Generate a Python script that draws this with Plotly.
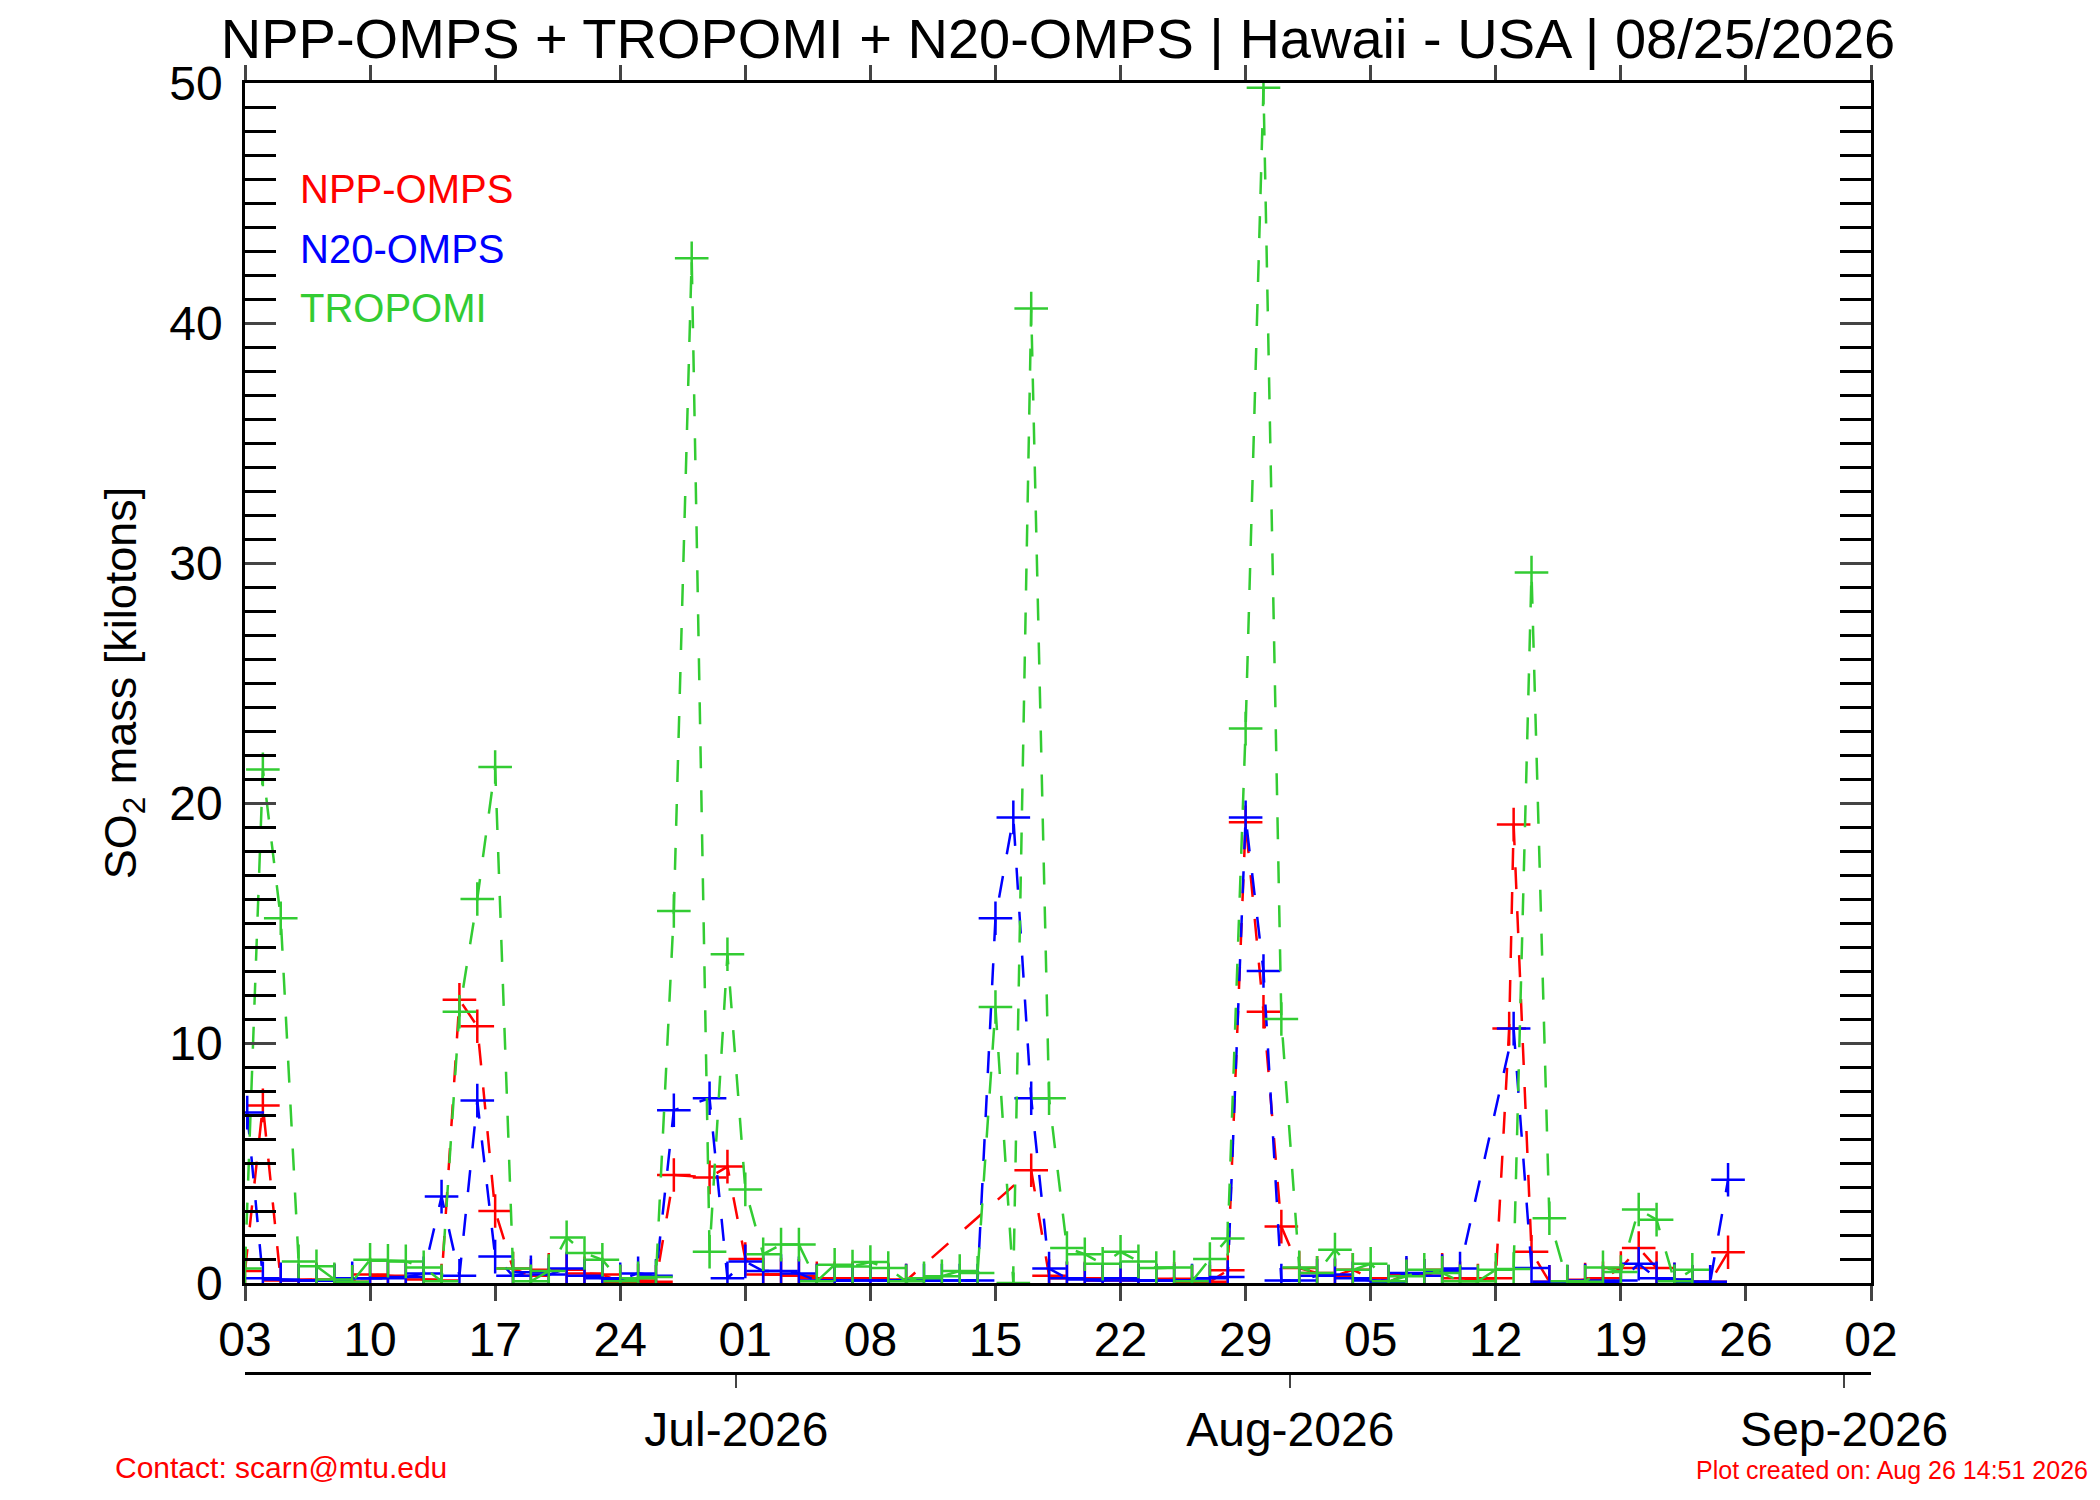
import plotly.graph_objects as go

# NPP-OMPS (rojo)
npp_dates = ['2026-06-03', '2026-06-04', '2026-06-05', '2026-06-06', '2026-06-07', '2026-06-08',
             '2026-06-09', '2026-06-10', '2026-06-11', '2026-06-12', '2026-06-13', '2026-06-14',
             '2026-06-15', '2026-06-16', '2026-06-17', '2026-06-18', '2026-06-19', '2026-06-20',
             '2026-06-21', '2026-06-22', '2026-06-23', '2026-06-24', '2026-06-25', '2026-06-26',
             '2026-06-27', '2026-06-29', '2026-06-30', '2026-07-01', '2026-07-02', '2026-07-03',
             '2026-07-04', '2026-07-05', '2026-07-06', '2026-07-07', '2026-07-08', '2026-07-09',
             '2026-07-10', '2026-07-17', '2026-07-18', '2026-07-19', '2026-07-20', '2026-07-21',
             '2026-07-22', '2026-07-23', '2026-07-24', '2026-07-25', '2026-07-26', '2026-07-27',
             '2026-07-28', '2026-07-29', '2026-07-30', '2026-07-31', '2026-08-01', '2026-08-02',
             '2026-08-03', '2026-08-04', '2026-08-05', '2026-08-06', '2026-08-07', '2026-08-08',
             '2026-08-09', '2026-08-10', '2026-08-11', '2026-08-12', '2026-08-12 18:00', '2026-08-13',
             '2026-08-14', '2026-08-15', '2026-08-16', '2026-08-17', '2026-08-18', '2026-08-19',
             '2026-08-20', '2026-08-21', '2026-08-22', '2026-08-23', '2026-08-24', '2026-08-25']
npp_values = [0.5, 7.4, 0.1, 0.1, 0.15, 0.1,
              0.05, 0.35, 0.3, 0.25, 0.15, 0.1,
              11.8, 10.7, 3.0, 0.6, 0.3, 0.55,
              0.55, 0.4, 0.35, 0.05, 0.1, 0.05,
              4.5, 4.4, 4.85, 1.0, 0.35, 0.35,
              0.3, 0.2, 0.2, 0.2, 0.2, 0.15,
              0.1, 4.7, 0.3, 0.2, 0.2, 0.1,
              0.15, 0.1, 0.1, 0.18, 0.05, 0.05,
              0.53, 19.2, 11.3, 2.35, 0.62, 0.42,
              0.3, 0.55, 0.2, 0.05, 0.35, 0.3,
              0.55, 0.2, 0.1, 0.2, 10.6, 19.1,
              1.3, 0.05, 0.05, 0.14, 0.2, 0.62,
              1.46, 0.62, 0.14, 0.05, 0.05, 1.28]

# N20-OMPS (azul)
n20_dates = ['2026-06-03 03:00', '2026-06-04', '2026-06-05', '2026-06-06', '2026-06-07', '2026-06-08',
             '2026-06-09', '2026-06-10', '2026-06-11', '2026-06-12', '2026-06-13', '2026-06-14',
             '2026-06-15', '2026-06-16', '2026-06-17', '2026-06-18', '2026-06-19', '2026-06-20',
             '2026-06-21', '2026-06-22', '2026-06-23', '2026-06-24', '2026-06-25', '2026-06-26',
             '2026-06-27', '2026-06-29', '2026-06-30', '2026-07-01', '2026-07-02', '2026-07-03',
             '2026-07-04', '2026-07-05', '2026-07-06', '2026-07-07', '2026-07-08', '2026-07-09',
             '2026-07-10', '2026-07-11', '2026-07-12', '2026-07-13', '2026-07-14', '2026-07-15',
             '2026-07-16', '2026-07-17', '2026-07-18', '2026-07-19', '2026-07-20', '2026-07-21',
             '2026-07-22', '2026-07-23', '2026-07-24', '2026-07-25', '2026-07-26', '2026-07-27',
             '2026-07-28', '2026-07-29', '2026-07-30', '2026-07-31', '2026-08-01', '2026-08-02',
             '2026-08-03', '2026-08-04', '2026-08-05', '2026-08-06', '2026-08-07', '2026-08-08',
             '2026-08-09', '2026-08-10', '2026-08-13', '2026-08-14', '2026-08-15', '2026-08-16',
             '2026-08-17', '2026-08-18', '2026-08-19', '2026-08-20', '2026-08-21', '2026-08-22',
             '2026-08-23', '2026-08-24', '2026-08-25']
n20_values = [7.1, 0.2, 0.15, 0.1, 0.1, 0.1,
              0.2, 0.2, 0.2, 0.25, 0.4, 3.6,
              0.3, 7.6, 1.1, 0.3, 0.45, 0.35,
              0.6, 0.3, 0.2, 0.15, 0.4, 0.3,
              7.2, 7.7, 0.2, 0.9, 0.5, 0.5,
              0.4, 0.1, 0.1, 0.1, 0.1, 0.1,
              0.1, 0.1, 0.1, 0.1, 0.1, 15.2,
              19.4, 7.7, 0.6, 0.2, 0.15, 0.1,
              0.2, 0.1, 0.1, 0.1, 0.1, 0.2,
              0.25, 19.4, 13.0, 0.1, 0.1, 0.3,
              0.35, 0.2, 0.1, 0.05, 0.42, 0.3,
              0.5, 0.6, 10.6, 0.62, 0.05, 0.05,
              0.1, 0.05, 0.1, 0.8, 0.2, 0.15,
              0.05, 0.05, 4.3]

# TROPOMI (verde)
tropomi_dates = ['2026-06-03', '2026-06-04', '2026-06-05', '2026-06-06', '2026-06-07', '2026-06-08',
                 '2026-06-09', '2026-06-10', '2026-06-11', '2026-06-12', '2026-06-13', '2026-06-14',
                 '2026-06-15', '2026-06-16', '2026-06-17', '2026-06-18', '2026-06-19', '2026-06-20',
                 '2026-06-21', '2026-06-22', '2026-06-23', '2026-06-24', '2026-06-25', '2026-06-26',
                 '2026-06-27', '2026-06-28', '2026-06-29', '2026-06-30', '2026-07-01', '2026-07-02',
                 '2026-07-03', '2026-07-04', '2026-07-05', '2026-07-06', '2026-07-07', '2026-07-08',
                 '2026-07-09', '2026-07-10', '2026-07-11', '2026-07-12', '2026-07-13', '2026-07-14',
                 '2026-07-15', '2026-07-16', '2026-07-17', '2026-07-18', '2026-07-19', '2026-07-20',
                 '2026-07-21', '2026-07-22', '2026-07-23', '2026-07-24', '2026-07-25', '2026-07-26',
                 '2026-07-27', '2026-07-28', '2026-07-29', '2026-07-30', '2026-07-31', '2026-08-01',
                 '2026-08-02', '2026-08-03', '2026-08-04', '2026-08-05', '2026-08-06', '2026-08-07',
                 '2026-08-08', '2026-08-09', '2026-08-10', '2026-08-11', '2026-08-12', '2026-08-13',
                 '2026-08-14', '2026-08-15', '2026-08-16', '2026-08-17', '2026-08-18', '2026-08-19',
                 '2026-08-20', '2026-08-21', '2026-08-22', '2026-08-23']
tropomi_values = [0.6, 21.4, 15.2, 0.9, 0.7, 0.15,
                  0.05, 0.97, 0.93, 0.9, 0.65, 0.07,
                  11.3, 16.0, 21.5, 0.6, 0.07, 0.5,
                  1.9, 1.25, 0.97, 0.07, 0.2, 0.25,
                  15.5, 42.7, 1.3, 13.7, 3.9, 1.2,
                  1.6, 1.6, 0.07, 0.76, 0.69, 0.87,
                  0.62, 0.07, 0.2, 0.28, 0.5, 0.42,
                  11.5, 0.0, 40.6, 7.7, 1.46, 1.2,
                  0.8, 1.3, 0.9, 0.62, 0.65, 0.07,
                  1.0, 1.85, 23.1, 49.8, 11.0, 0.65,
                  0.42, 1.39, 0.55, 0.8, 0.07, 0.28,
                  0.55, 0.42, 0.07, 0.07, 0.55, 0.58,
                  29.6, 2.7, 0.07, 0.05, 0.65, 0.46,
                  3.06, 2.64, 0.07, 0.55]

# Ejes
x_range = ['2026-06-03', '2026-09-02']
month_range = ['2026-06-03 12:00', '2026-09-02 12:00']
month_ticks = ['2026-07-01', '2026-08-01', '2026-09-01']
month_labels = ['Jul-2026', 'Aug-2026', 'Sep-2026']

FONT = 'Liberation Sans, Arial, sans-serif'
DAY_MS = 86400000

# Geometría del área de dibujo (px)
W, H = 2100, 1500
L, R, T, B = 237, 237, 75, 135
PW, PH = W - L - R, H - T - B


def px_x(px):
    return (px - L) / PW


def px_y(py):
    return (H - B - py) / PH


series = [
    ('NPP-OMPS', npp_dates, npp_values, '#FF0000'),
    ('N20-OMPS', n20_dates, n20_values, '#0000FF'),
    ('TROPOMI', tropomi_dates, tropomi_values, '#33CC33'),
]

fig = go.Figure()

for name, x, y, color in series:
    fig.add_trace(go.Scatter(
        x=x, y=y, name=name, mode='lines+markers',
        line=dict(color=color, width=2.5, dash='22px,22px'),
        marker=dict(symbol='cross-thin', size=24, line=dict(width=2.5, color=color)),
        showlegend=False
    ))

# eje de meses (traza vacía para que exista el eje)
fig.add_trace(go.Scatter(x=month_range, y=[None, None], xaxis='x2', yaxis='y',
                         showlegend=False, hoverinfo='skip'))

fig.update_layout(
    width=W, height=H,
    margin=dict(l=L, r=R, t=T, b=B),
    paper_bgcolor='white', plot_bgcolor='white',
    font=dict(family=FONT, color='black'),
    title=dict(text='NPP-OMPS + TROPOMI + N20-OMPS | Hawaii - USA | 08/25/2026',
               x=0.5, xref='paper', xanchor='center',
               y=1 - 30 / H, yref='container', yanchor='middle',
               font=dict(size=56, family=FONT, color='black')),
    xaxis=dict(type='date', range=x_range, tick0=x_range[0], dtick=7 * DAY_MS,
               tickformat='%d', ticks='outside', ticklen=15, tickwidth=2.5,
               showline=True, linewidth=2.5, linecolor='black', mirror='allticks',
               showgrid=False, zeroline=False, anchor='y',
               tickfont=dict(size=48), ticklabelstandoff=-2),
    xaxis2=dict(type='date', range=month_range, tickvals=month_ticks, ticktext=month_labels,
                ticks='outside', ticklen=13, tickwidth=2, showline=True, linewidth=2.5,
                linecolor='black', showgrid=False, zeroline=False,
                overlaying='x', anchor='free', position=0, side='bottom',
                tickfont=dict(size=48), ticklabelstandoff=1),
    yaxis=dict(range=[0, 50], dtick=10, ticks='inside', ticklen=31, tickwidth=2.5,
               minor=dict(dtick=1, ticks='inside', ticklen=16, tickwidth=2.5, tickcolor='black'),
               showline=True, linewidth=2.5, linecolor='black', mirror='allticks',
               showgrid=False, zeroline=False, domain=[(H - B - 1275) / PH, 1],
               tickfont=dict(size=48), ticklabelstandoff=10,
               title=dict(text='SO<sub>2</sub> mass [kilotons]', font=dict(size=45), standoff=19)),
)

# Leyenda como texto coloreado
legend_y = [181, 241, 300]
for (name, _, _, color), yy in zip(series, legend_y):
    fig.add_annotation(text=name, x=px_x(290), y=px_y(yy), xref='paper', yref='paper',
                       xanchor='left', yanchor='middle', showarrow=False,
                       font=dict(size=40, color=color, family=FONT))

fig.add_annotation(text='Contact: scarn@mtu.edu', x=px_x(105), y=px_y(1460),
                   xref='paper', yref='paper', xanchor='left', yanchor='middle', showarrow=False,
                   font=dict(size=30, color='#FF0000', family=FONT))
fig.add_annotation(text='Plot created on: Aug 26 14:51 2026', x=px_x(2082), y=px_y(1462),
                   xref='paper', yref='paper', xanchor='right', yanchor='middle', showarrow=False,
                   font=dict(size=25, color='#FF0000', family=FONT))

fig.write_html('out.html')
